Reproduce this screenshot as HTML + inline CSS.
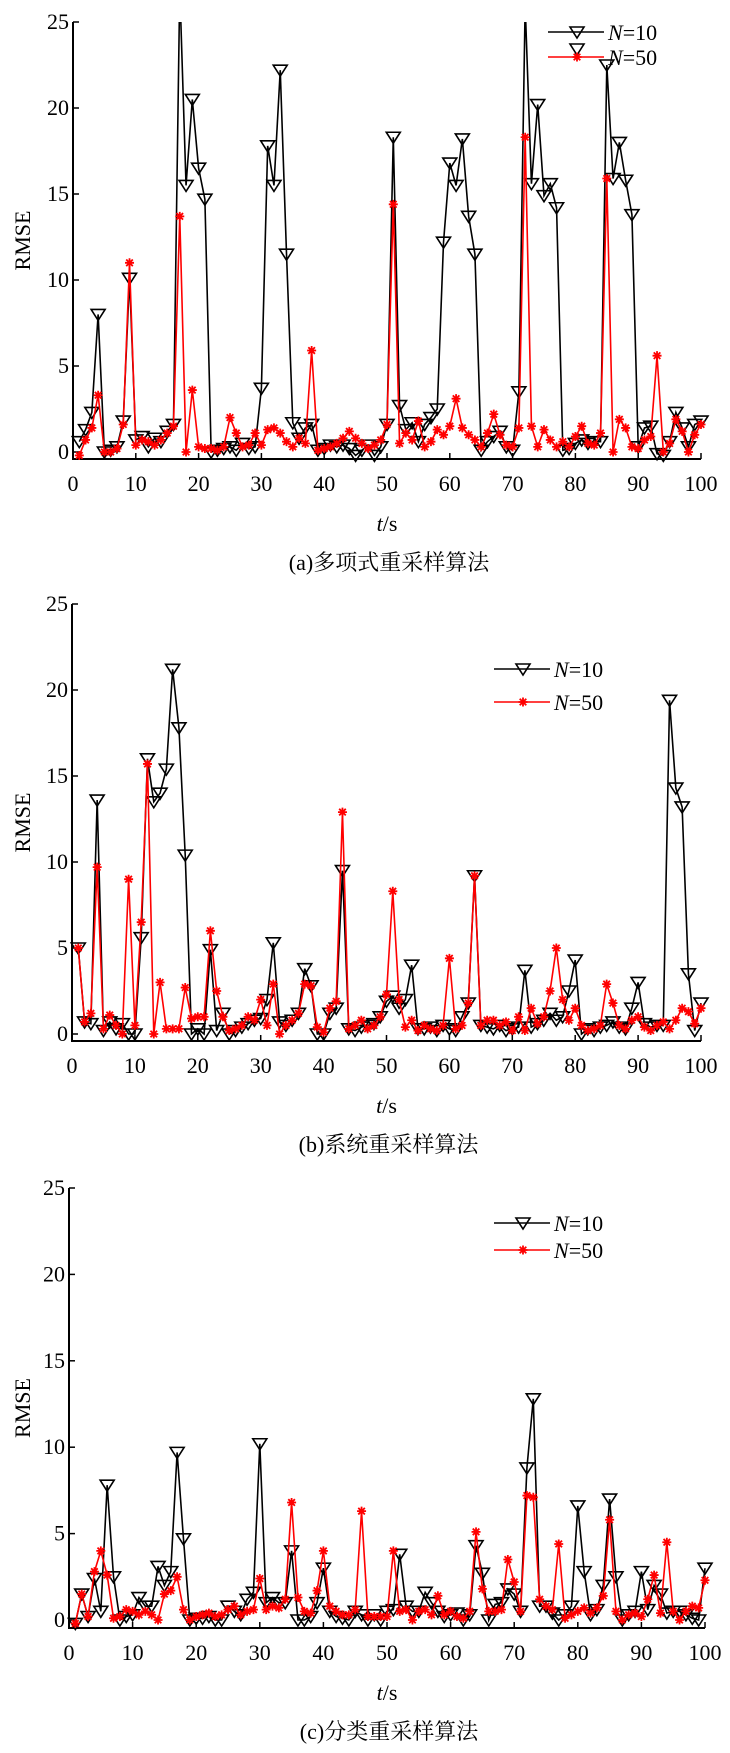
<!DOCTYPE html>
<html><head><meta charset="utf-8"><style>
html,body{margin:0;padding:0;background:#fff;}
svg{display:block;}
text{font-family:"Liberation Serif","Noto Serif CJK SC",serif;fill:#000;}
</style></head><body>
<svg id="fig" width="730" height="1753" viewBox="0 0 730 1753" xmlns="http://www.w3.org/2000/svg"></svg>
<script>
const tValues = Array.from({length:100},(_,i)=>i+1);
const xTicks = [0,10,20,30,40,50,60,70,80,90,100];
const yTicks = [0,5,10,15,20,25];
const legendLabels = ["=10","=50"];
const captions = ["(a)多项式重采样算法","(b)系统重采样算法","(c)分类重采样算法"];

const multinomialN10 = [0.6,1.3,2.3,8.0,0,0.1,0.3,1.8,10.1,0.7,0.9,0.3,0.8,0.6,1.2,1.6,27,15.5,20.5,16.5,14.7,0,0.1,0.2,0.3,0.1,0.5,0.2,0.3,3.7,17.8,15.5,22.2,11.5,1.7,0.8,1.4,1.6,0.1,0.2,0.4,0.3,0.4,0.2,-0.2,0.1,0.4,-0.2,0.3,1.6,18.3,2.7,1.3,1.7,0.6,1.6,2.0,2.5,12.2,16.8,15.5,18.2,13.7,11.5,0.1,0.6,0.9,1.2,0.3,0.1,3.5,26,15.6,20.2,14.9,15.6,14.2,0.1,0.2,0.5,0.7,0.5,0.6,0.6,22.5,15.9,18,15.8,13.8,0.3,1.4,1.5,-0.1,-0.2,0.6,2.3,1.4,0.3,1.6,1.8];
const multinomialN50 = [-0.2,0.7,1.4,3.3,0,0,0.2,1.6,11,0.4,0.7,0.6,0.4,0.7,1.1,1.5,13.7,0,3.6,0.3,0.2,0.2,0.1,0.3,2.0,1.1,0.3,0.4,1.1,0.4,1.3,1.4,1.1,0.6,0.3,0.8,0.5,5.9,0.1,0.2,0.3,0.5,0.8,1.2,0.8,0.5,0.2,0.4,0.7,1.6,14.4,0.5,1.1,0.7,1.8,0.3,0.6,1.3,1.0,1.5,3.1,1.4,1.0,0.7,0.3,1.1,2.2,1.0,0.4,0.3,1.4,18.3,1.5,0.3,1.3,0.7,0.3,0.6,0.3,0.9,1.5,0.5,0.4,1.1,15.9,0,1.9,1.4,0.3,0.2,0.7,0.9,5.6,0,0.5,1.9,1.2,0,1.0,1.6];
const systematicN10 = [5.0,0.7,0.6,13.6,0.2,0.7,0.3,0.6,0,0,5.6,16,13.5,14,15.4,21.2,17.8,10.4,0,0.3,0,4.9,0.2,1.2,0,0.2,0.4,0.6,0.8,0.9,2.0,5.3,0.7,0.5,0.8,1.2,3.8,2.8,0,0,1.2,1.5,9.5,0.3,0.2,0.4,0.5,0.6,1.0,1.9,2.2,1.5,2.0,4.0,0.3,0.3,0.4,0.2,0.5,0.3,0.2,1.0,1.8,9.2,0.5,0.4,0.3,0.5,0.2,0.3,0.4,3.7,0.4,0.6,0.8,1.2,0.8,1.0,2.5,4.3,0,0.3,0.2,0.4,0.5,0.7,0.4,0.3,1.5,3.0,0.6,0.4,0.5,0.5,19.4,14.3,13.2,3.5,0.2,1.8];
const systematicN50 = [5.0,0.7,1.2,9.7,0.3,1.1,0.5,0,9.0,0.5,6.5,15.7,0,3.0,0.3,0.3,0.3,2.7,0.9,1.0,1.0,6.0,2.5,1.0,0.2,0.3,0.5,1.0,0.8,2.0,0.5,2.9,0,0.5,0.8,1.2,2.9,2.8,0.4,0.1,1.5,1.9,12.9,0.3,0.5,0.8,0.3,0.5,1.0,2.3,8.3,2.0,0.4,0.8,0.2,0.5,0.3,0.2,0.5,4.4,0.3,0.5,1.8,9.2,0.5,0.8,0.8,0.5,0.7,0.2,1.0,0.2,1.5,0.6,1.0,2.5,5.0,2.0,0.8,1.5,0.5,0.2,0.3,0.5,2.9,1.8,0.5,0.3,0.8,1.0,0.4,0.2,0.5,0.7,0.3,0.8,1.5,1.3,0.6,1.5];
const stratifiedN10 = [-0.2,1.5,0.2,2.4,0.5,7.8,2.5,0,0.2,0.3,1.3,0.8,0.8,3.1,2.0,2.8,9.7,4.7,0,0.1,0.1,0.2,0,0,0.8,0.5,0.3,1.2,1.6,10.2,1.0,1.3,1.0,1.0,4.0,0,0,0.2,1.0,3.0,0.5,0.2,0.1,0,0.5,0.3,0,0.3,0,0.5,0.6,3.8,0.8,0.5,0.5,1.6,1.0,0.5,0.2,0.3,0.4,0,0.3,4.3,2.7,0,0.9,1.0,1.8,1.5,0.5,8.8,12.8,0.8,0.8,0.4,0,0.3,0.8,6.6,2.8,0.3,0.6,2.0,7.0,2.5,0,0.3,0.5,2.8,0.6,2.0,1.5,0.4,0.5,0.5,0.3,0.1,0,3.0];
const stratifiedN50 = [-0.2,1.5,0.2,2.8,4.0,2.6,0.1,0.2,0.6,0.5,0.3,0.5,0.3,0,1.5,1.7,2.5,0.6,0,0.2,0.3,0.4,0.2,0.3,0.6,0.8,0.3,0.5,0.6,2.4,0.6,0.8,0.7,1.2,6.8,1.3,0.5,0.4,1.7,4.0,0.8,0.5,0.3,0.3,0.6,6.3,0.2,0.2,0.2,0.2,4.0,0.5,0.6,0,0.5,0.6,0.3,1.4,0.3,0.5,0.2,0.1,0.5,5.1,1.8,0.5,0.5,0.6,3.5,2.2,0.5,7.2,7.1,1.2,0.8,0.6,4.4,0.1,0.3,0.5,0.7,0.4,0.7,1.4,5.8,0.5,0,0.3,0.4,0.2,1.2,2.6,0.4,4.5,0.5,0,0.5,0.8,0.7,2.3];

const NS='http://www.w3.org/2000/svg';
const svg=document.getElementById('fig');
function mk(tag,attrs,parent){const e=document.createElementNS(NS,tag);for(const k in attrs)e.setAttribute(k,attrs[k]);(parent||svg).appendChild(e);return e;}

const panels=[
 {key:'a',x0:73,x1:701,y25:22,y0:452,axisY:459,legX:548,legY:[32,57],n10:multinomialN10,n50:multinomialN50,extraTri:true},
 {key:'b',x0:72,x1:701,y25:604,y0:1034,axisY:1041,legX:494,legY:[669,702],n10:systematicN10,n50:systematicN50},
 {key:'c',x0:69,x1:705,y25:1188,y0:1620,axisY:1628,legX:494,legY:[1223,1250],n10:stratifiedN10,n50:stratifiedN50}
];

function triPath(x,y){return `M${x-7},${y-5} L${x+7},${y-5} L${x},${y+6} Z`;}
function star(g,x,y){const s=4.5;return `M${x},${y-s}L${x},${y+s}M${x-s},${y}L${x+s},${y}M${x-3.3},${y-3.3}L${x+3.3},${y+3.3}M${x-3.3},${y+3.3}L${x+3.3},${y-3.3}`;}

panels.forEach((p,pi)=>{
  const g=mk('g',{});
  
  
  const xs=v=>p.x0+(p.x1-p.x0)*v/100;
  const ys=v=>p.y0-(p.y0-p.y25)*v/25;
  const cp=mk('clipPath',{id:'clip'+p.key},g);
  mk('rect',{x:p.x0-10,y:p.y25,width:p.x1-p.x0+20,height:p.axisY-p.y25+12},cp);
  const ax=mk('path',{d:`M${p.x0},${p.y25} L${p.x0},${p.axisY} L${p.x1},${p.axisY}`,stroke:'#000','stroke-width':2,fill:'none'},g);
  
  
  yTicks.forEach(v=>{
    mk('line',{x1:p.x0,x2:p.x0+6,y1:ys(v),y2:ys(v),stroke:'#000','stroke-width':1.5},g);
    const t=mk('text',{x:p.x0-4,y:ys(v)+7,'text-anchor':'end','font-size':22},g);
    t.textContent=v;
    
    
  });
  xTicks.forEach(v=>{
    mk('line',{x1:xs(v),x2:xs(v),y1:p.axisY,y2:p.axisY-6,stroke:'#000','stroke-width':1.5},g);
    const t=mk('text',{x:xs(v),y:p.axisY+32,'text-anchor':'middle','font-size':22},g);
    t.textContent=v;
    
    
  });
  const yl=mk('text',{x:0,y:0,'text-anchor':'middle','font-size':22,transform:`translate(30,${(p.y25+p.axisY)/2}) rotate(-90)`},g);
  yl.textContent='RMSE';
  
  
  const xl=mk('text',{x:(p.x0+p.x1)/2,y:p.axisY+72,'text-anchor':'middle','font-size':22},g);
  xl.innerHTML='<tspan font-style="italic">t</tspan>/s';
  
  
  const cap=mk('text',{x:(p.x0+p.x1)/2+2,y:p.axisY+111,'text-anchor':'middle','font-size':22},g);
  cap.textContent=captions[pi];
  
  
  const sg=mk('g',{'clip-path':`url(#clip${p.key})`},g);
  const blk=mk('polyline',{points:p.n10.map((v,i)=>`${xs(tValues[i])},${ys(v)}`).join(' '),fill:'none',stroke:'#000','stroke-width':1.6},sg);
  
  
  const triD=p.n10.map((v,i)=>triPath(xs(tValues[i]),ys(v))).join(' ');
  const tri=mk('path',{d:triD,fill:'none',stroke:'#000','stroke-width':1.6},sg);
  
  
  const red=mk('polyline',{points:p.n50.map((v,i)=>`${xs(tValues[i])},${ys(v)}`).join(' '),fill:'none',stroke:'#f00','stroke-width':1.6},sg);
  
  
  const st=mk('path',{d:p.n50.map((v,i)=>star(sg,xs(tValues[i]),ys(v))).join(''),fill:'none',stroke:'#f00','stroke-width':1.8},sg);
  
  
  const lg=mk('g',{},g);
  
  
  [0,1].forEach(k=>{
    const y=p.legY[k], c=k?'#f00':'#000', mx=p.legX+29;
    mk('line',{x1:p.legX,x2:p.legX+56,y1:y,y2:y,stroke:c,'stroke-width':1.6},lg);
    if(k===0||p.extraTri) mk('path',{d:triPath(mx,k?y-8:y),fill:'none',stroke:'#000','stroke-width':1.6},lg);
    if(k===1) mk('path',{d:star(lg,mx,y),stroke:'#f00','stroke-width':1.8,fill:'none'},lg);
    const t=mk('text',{x:p.legX+60,y:y+8,'font-size':22},lg);
    t.innerHTML='<tspan font-style="italic">N</tspan>'+legendLabels[k];
    
    
  });
});
</script>
</body></html>
